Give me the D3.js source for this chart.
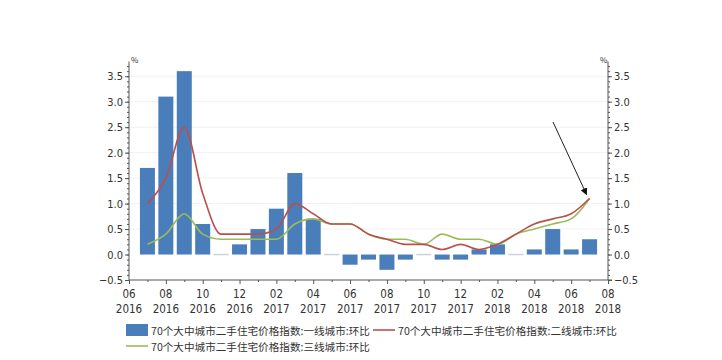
<!DOCTYPE html>
<html><head><meta charset="utf-8">
<script src="https://cdn.jsdelivr.net/npm/d3@7"></script>
<style>
html,body{margin:0;padding:0;background:#fff;}
svg{display:block;}
text{font-family:"Noto Sans CJK SC","Noto Sans",sans-serif;fill:#333;}
</style></head>
<body>
<svg id="chart" width="722" height="360"></svg>
<script>
// ---- data ----
const months = ["2016-07","2016-08","2016-09","2016-10","2016-11","2016-12",
  "2017-01","2017-02","2017-03","2017-04","2017-05","2017-06","2017-07","2017-08",
  "2017-09","2017-10","2017-11","2017-12","2018-01","2018-02","2018-03","2018-04",
  "2018-05","2018-06","2018-07"];
const tier1 = [1.7,3.1,3.6,0.6,0.0,0.2,0.5,0.9,1.6,0.7,0.0,-0.2,-0.1,-0.3,-0.1,0.0,-0.1,-0.1,0.1,0.2,0.0,0.1,0.5,0.1,0.3];
const tier2 = [1.0,1.5,2.5,1.2,0.4,0.4,0.4,0.5,1.0,0.8,0.6,0.6,0.4,0.3,0.2,0.2,0.1,0.2,0.1,0.2,0.4,0.6,0.7,0.8,1.1];
const tier3 = [0.2,0.4,0.8,0.4,0.3,0.3,0.3,0.3,0.6,0.7,0.6,0.6,0.4,0.3,0.3,0.2,0.4,0.3,0.3,0.2,0.4,0.5,0.6,0.7,1.1];
const xTickMonths = ["06","08","10","12","02","04","06","08","10","12","02","04","06","08"];
const xTickYears  = ["2016","2016","2016","2016","2017","2017","2017","2017","2017","2017","2018","2018","2018","2018"];
const yTicks = [-0.5,0.0,0.5,1.0,1.5,2.0,2.5,3.0,3.5];
const gridValues = [0.5,1.0,1.5,2.0,2.5,3.0,3.5];
const seriesNames = ["70个大中城市二手住宅价格指数:一线城市:环比",
                     "70个大中城市二手住宅价格指数:二线城市:环比",
                     "70个大中城市二手住宅价格指数:三线城市:环比"];
const colors = {bar:"#4a7ebb", red:"#b9504d", green:"#9bbb59"};

// ---- layout ----
const L = 129, R = 608, T = 63.5, B = 280;
const svg = d3.select("#chart");
const idx = s => { const [y,m] = s.split("-").map(Number); return (y-2016)*12 + m - 6; };
const x = d3.scaleLinear().domain([0,26]).range([L,R]);
const y = d3.scaleLinear().domain([-0.5,3.75]).range([B,T]);
const bw = 15;

// grid
svg.append("g").selectAll("line").data(gridValues).join("line")
  .attr("x1",L).attr("x2",R).attr("y1",d=>y(d)).attr("y2",d=>y(d))
  .attr("stroke","#f1f1f1").attr("stroke-width",1);

// bars
const bars = months.map((m,i)=>({i:idx(m), v:tier1[i]}));
svg.append("g").selectAll("rect").data(bars).join("rect")
  .attr("x",d=>x(d.i)-bw/2)
  .attr("width",bw)
  .attr("y",d=>d.v===0? y(0)-0.75 : Math.min(y(d.v),y(0)))
  .attr("height",d=>d.v===0? 1.5 : Math.abs(y(d.v)-y(0)))
  .attr("fill",d=>d.v===0? "#c9d3e0" : colors.bar);

// lines
const line = d3.line().x(d=>x(d.i)).y(d=>y(d.v)).curve(d3.curveMonotoneX);
const s2 = months.map((m,i)=>({i:idx(m), v:tier2[i]}));
const s3 = months.map((m,i)=>({i:idx(m), v:tier3[i]}));
svg.append("path").datum(s3).attr("d",line).attr("fill","none").attr("stroke",colors.green).attr("stroke-width",1.6);
svg.append("path").datum(s2).attr("d",line).attr("fill","none").attr("stroke",colors.red).attr("stroke-width",1.6);

// left axis
const fmt = d3.format(".1f");
const gl = svg.append("g").attr("transform",`translate(${L},0)`);
gl.call(d3.axisLeft(y).tickValues(yTicks).tickFormat(fmt).tickSize(4).tickPadding(2));
const minor = d3.range(-5,38).map(v=>v/10);
gl.append("g").call(d3.axisLeft(y).tickValues(minor).tickFormat("").tickSize(2)).select(".domain").remove();
gl.select(".domain").attr("d",`M0,${B}V${T-2}`);
// right axis
const gr = svg.append("g").attr("transform",`translate(${R},0)`);
gr.call(d3.axisRight(y).tickValues(yTicks).tickFormat(fmt).tickSize(4).tickPadding(2));
gr.append("g").call(d3.axisRight(y).tickValues(minor).tickFormat("").tickSize(2)).select(".domain").remove();
gr.select(".domain").attr("d",`M0,${B}V${T-2}`);
[gl,gr].forEach(g=>{
  g.selectAll("line").attr("stroke","#555");
  g.selectAll(".domain").attr("stroke","#555");
  g.selectAll("text").attr("font-size",11).attr("fill","#333").style("font-family","'DejaVu Sans Condensed','Liberation Sans',sans-serif");
});
svg.append("text").attr("x",L+2).attr("y",T-1).attr("font-size",8).text("%");
svg.append("text").attr("x",R-8).attr("y",T-1).attr("font-size",8).text("%");

// x axis
const gx = svg.append("g").attr("transform",`translate(0,${B})`);
const majorIdx = xTickMonths.map((_,k)=>k*2);
gx.call(d3.axisBottom(x).tickValues(majorIdx).tickSize(4).tickFormat(""));
gx.append("g").call(d3.axisBottom(x).tickValues(d3.range(1,26,2)).tickSize(2).tickFormat("")).select(".domain").remove();
gx.selectAll("line").attr("stroke","#555");
gx.select(".domain").attr("stroke","#555").attr("d",`M${L},0H${R+4}`);
const lab = gx.append("g").selectAll("g").data(majorIdx).join("g").attr("transform",d=>`translate(${x(d)},0)`);
lab.append("text").attr("y",18).attr("text-anchor","middle").attr("font-size",11.5)
  .style("font-family","'DejaVu Sans Condensed','Liberation Sans',sans-serif").text((d,k)=>xTickMonths[k]);
lab.append("text").attr("y",33).attr("text-anchor","middle").attr("font-size",11.5)
  .style("font-family","'DejaVu Sans Condensed','Liberation Sans',sans-serif").text((d,k)=>xTickYears[k]);

// annotation arrow
const defs = svg.append("defs");
defs.append("marker").attr("id","ah").attr("viewBox","0 0 10 10").attr("refX",9).attr("refY",5)
  .attr("markerWidth",7).attr("markerHeight",7).attr("orient","auto")
  .append("path").attr("d","M0,0L10,5L0,10Z").attr("fill","#111");
svg.append("line").attr("x1",553).attr("y1",122).attr("x2",x(25)-3).attr("y2",y(1.1)-4)
  .attr("stroke","#222").attr("stroke-width",1).attr("marker-end","url(#ah)");

// legend
const lg = svg.append("g").attr("font-size",10.6);
lg.append("rect").attr("x",126).attr("y",324).attr("width",22).attr("height",12).attr("fill",colors.bar);
lg.append("text").attr("x",151).attr("y",334.5).text(seriesNames[0]);
lg.append("line").attr("x1",373).attr("x2",395).attr("y1",330).attr("y2",330).attr("stroke",colors.red).attr("stroke-width",1.6);
lg.append("text").attr("x",398).attr("y",334.5).text(seriesNames[1]);
lg.append("line").attr("x1",126).attr("x2",148).attr("y1",346).attr("y2",346).attr("stroke",colors.green).attr("stroke-width",1.6);
lg.append("text").attr("x",151).attr("y",350.5).text(seriesNames[2]);
</script>
</body></html>
